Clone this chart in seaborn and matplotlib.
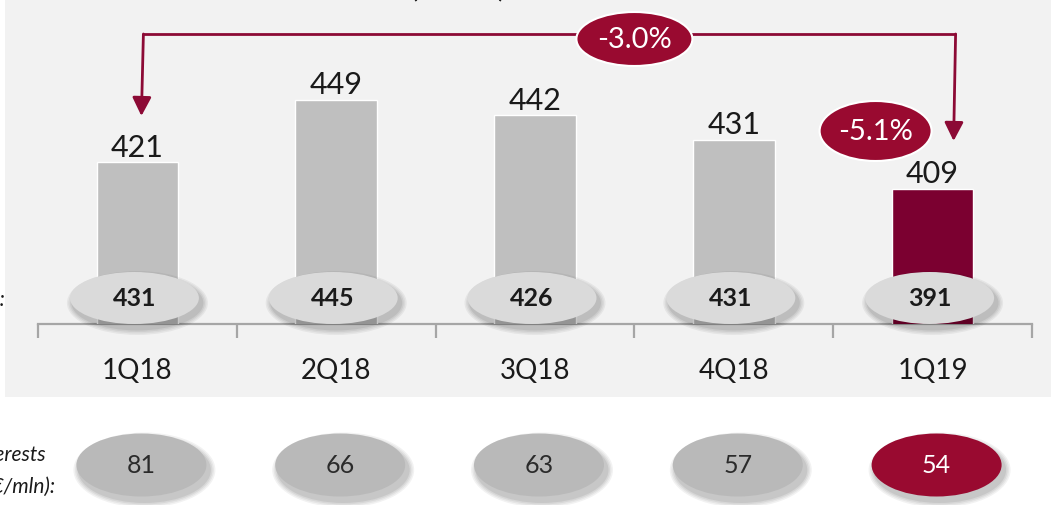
import matplotlib
matplotlib.use('Agg')
import matplotlib.pyplot as plt
import matplotlib.transforms as mtransforms
from matplotlib.patches import Ellipse, Rectangle
import numpy as np
import pandas as pd
import seaborn as sns

# ---------------- data ----------------
quarters = ['1Q18', '2Q18', '3Q18', '4Q18', '1Q19']
totals = [421, 449, 442, 431, 409]
inner_values = [431, 445, 426, 431, 391]
interest_values = [81, 66, 63, 57, 54]
change_year = '-3.0%'
change_quarter = '-5.1%'
interest_label = ['Net interests', '(€/mln):']
unit_label = '(€/mln)'

# ---------------- style ----------------
sns.set_style('white')
plt.rcParams['font.family'] = ['Lato', 'DejaVu Sans']

W, H = 1051, 506
fig = plt.figure(figsize=(W / 100, H / 100), dpi=100)
fig.patch.set_facecolor('white')

GREY_BAR = '#bfbfbf'
RED_BAR = '#7b0030'
RED = '#990a30'
LINE_RED = '#8c0a35'
AXIS_GREY = '#a6a6a6'
TXT = '#1a1a1a'


def fy(y_px):
    return 1 - y_px / H


def fx(x_px):
    return x_px / W


# grey panel
fig.add_artist(Rectangle((fx(5), fy(398)), fx(W - 5), 398 / H,
                         transform=fig.transFigure, facecolor='#f2f2f2',
                         edgecolor='none', zorder=0))

ax = fig.add_axes([fx(38), 181 / H, fx(1032 - 38), 293 / H])
ax.set_facecolor('none')
df = pd.DataFrame({'quarter': quarters, 'total': totals})
palette = [GREY_BAR] * (len(quarters) - 1) + [RED_BAR]
sns.barplot(data=df, x='quarter', y='total', hue='quarter', palette=palette,
            width=0.41, saturation=1, legend=False, ax=ax, zorder=2)
ax.set_ylim(348, 480)
ax.set_xlim(-0.5, len(quarters) - 0.5)
ax.set_xlabel('')
ax.set_ylabel('')
ax.set_yticks([])
for s in ['top', 'left', 'right']:
    ax.spines[s].set_visible(False)
ax.spines['bottom'].set_color(AXIS_GREY)
ax.spines['bottom'].set_linewidth(1.6)
ax.spines['bottom'].set_zorder(1)
ax.set_xticks(np.arange(-0.5, len(quarters), 1), minor=True)
ax.tick_params(axis='x', which='minor', bottom=True, length=10, width=1.6,
               color=AXIS_GREY, direction='out')
ax.tick_params(axis='x', which='major', bottom=True, length=0, pad=24,
               labelsize=20, labelcolor=TXT)

for cont in ax.containers:
    ax.bar_label(cont, fontsize=22, padding=1, color=TXT)

trans = mtransforms.blended_transform_factory(ax.transData, fig.transFigure)
px_per_unit = (1032 - 38) / len(quarters)


def shadow(cx, cy, w, h):
    for k, a in enumerate([0.05, 0.05, 0.06, 0.07]):
        grow = (4 - k) * 1.5
        e = Ellipse((cx + 3 / px_per_unit, cy - 5 / H), w + grow * 2 / px_per_unit,
                    h + grow * 2 / H, transform=trans, facecolor='black',
                    edgecolor='none', alpha=a, zorder=3, clip_on=False)
        ax.add_patch(e)


# upper ellipses (inside the bars)
for i, v in enumerate(inner_values):
    cx = i - 3 / px_per_unit
    cy = fy(299)
    w, h = 129 / px_per_unit, 52 / H
    shadow(cx, cy, w, h)
    ax.add_patch(Ellipse((cx, cy), w, h, transform=trans, facecolor='#dadada',
                         edgecolor='none', zorder=4, clip_on=False))
    ax.text(cx, cy, str(v), transform=trans, ha='center', va='center',
            fontsize=18, fontweight='bold', color=TXT, zorder=5)

# lower ellipses (interests)
for i, v in enumerate(interest_values):
    cx = i + 4 / px_per_unit
    cy = fy(466)
    w, h = 130 / px_per_unit, 63 / H
    last = i == len(interest_values) - 1
    shadow(cx, cy, w, h)
    ax.add_patch(Ellipse((cx, cy), w, h, transform=trans,
                         facecolor=RED if last else '#b9b9b9',
                         edgecolor='none', zorder=4, clip_on=False))
    ax.text(cx, cy, str(v), transform=trans, ha='center', va='center',
            fontsize=18, color='white' if last else '#2b2b2b', zorder=5)

# bracket with arrows from 1Q18 to 1Q19
y_line = fy(35)
x_left = 0 + 6 / px_per_unit
x_right = len(quarters) - 1 + 23 / px_per_unit
ax.plot([x_left, x_right], [y_line, y_line], transform=trans, color=LINE_RED,
        lw=2, zorder=3, clip_on=False, solid_capstyle='butt')
arrow_style = '-|>,head_length=0.75,head_width=0.38'
ax.annotate('', xy=(x_left - 2 / px_per_unit, fy(117)), xycoords=trans,
            xytext=(x_left, y_line), textcoords=trans,
            arrowprops=dict(arrowstyle=arrow_style, color=LINE_RED, lw=2,
                            mutation_scale=15, shrinkA=0, shrinkB=0), zorder=3)
ax.annotate('', xy=(x_right - 2 / px_per_unit, fy(142)), xycoords=trans,
            xytext=(x_right, y_line), textcoords=trans,
            arrowprops=dict(arrowstyle=arrow_style, color=LINE_RED, lw=2,
                            mutation_scale=15, shrinkA=0, shrinkB=0), zorder=3)

# change badges
cx = 2.5
ax.add_patch(Ellipse((cx, fy(40)), 116 / px_per_unit, 54 / H, transform=trans,
                     facecolor=RED, edgecolor='white', lw=1.5, zorder=4, clip_on=False))
ax.text(cx, fy(40), change_year, transform=trans, ha='center', va='center',
        fontsize=21, color='white', zorder=6)

cx2 = len(quarters) - 1 - 57 / px_per_unit
ax.add_patch(Ellipse((cx2, fy(132)), 112 / px_per_unit, 60 / H, transform=trans,
                     facecolor=RED, edgecolor='white', lw=1.5, zorder=4, clip_on=False))
ax.text(cx2, fy(132), change_quarter, transform=trans, ha='center', va='center',
        fontsize=21, color='white', zorder=6)

# side / top labels (partly cut by the figure edges, as in the reference)
fig.text(fx(46), fy(455), interest_label[0], ha='right', va='center',
         fontsize=15, fontstyle='italic', color=TXT)
fig.text(fx(55), fy(487), interest_label[1], ha='right', va='center',
         fontsize=15, fontstyle='italic', color=TXT)
fig.text(fx(6), fy(300), 'Revenues:', ha='right', va='center',
         fontsize=15, fontstyle='italic', color=TXT)
fig.text(fx(458), fy(-4), unit_label, ha='center', va='baseline',
         fontsize=22, color=TXT)

fig.savefig('out.png', dpi=100)
